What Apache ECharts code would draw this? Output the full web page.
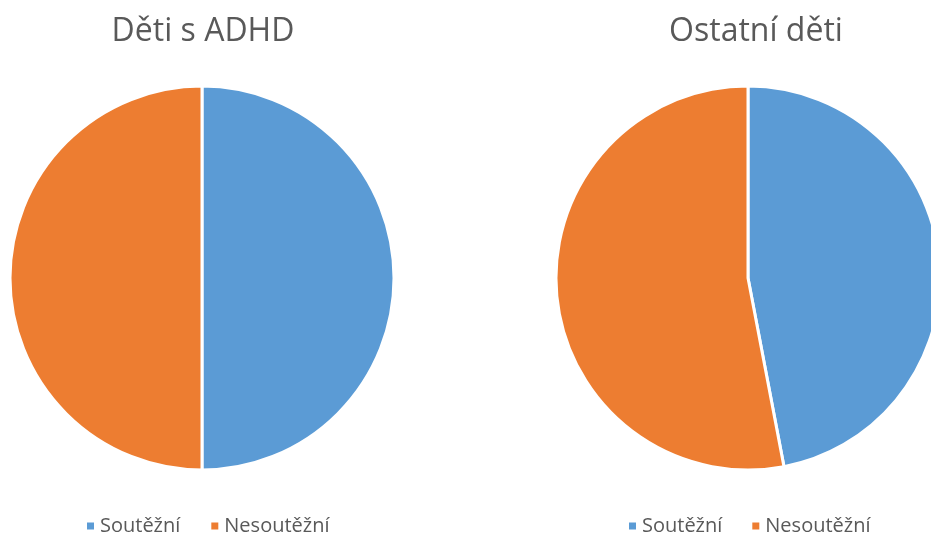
<!DOCTYPE html>
<html><head><meta charset="utf-8">
<script src="https://cdn.jsdelivr.net/npm/echarts@6/dist/echarts.min.js"></script>
<style>html,body{margin:0;padding:0;background:#fff}#c{width:931px;height:534px}</style>
</head><body><div id="c"></div>
<script>
const categories = ['Soutěžní', 'Nesoutěžní'];
const titles = ['Děti s ADHD', 'Ostatní děti'];
const adhdValues = [50, 50];
const otherValues = [47, 53];
const colors = ['#5B9BD5', '#ED7D31'];

const chart = echarts.init(document.getElementById('c'));
const font = 'Open Sans, Noto Sans, sans-serif';
function mk(values) { return categories.map((n, i) => ({ name: n, value: values[i] })); }
const titleStyle = { fontFamily: font, fontSize: 32, fontWeight: 'normal', color: '#595959' };
const legendStyle = { fontFamily: font, fontSize: 20, color: '#595959' };
chart.setOption({
  color: colors,
  animation: false,
  title: [
    { text: titles[0], left: 198, top: 11, textAlign: 'center', textStyle: titleStyle },
    { text: titles[1], left: 751, top: 11, textAlign: 'center', textStyle: titleStyle }
  ],
  legend: [
    { data: categories, left: 80, top: 511, icon: 'rect', itemWidth: 9, itemHeight: 9, itemGap: 29, textStyle: legendStyle },
    { data: categories, left: 622, top: 511, icon: 'rect', itemWidth: 9, itemHeight: 9, itemGap: 28, textStyle: legendStyle }
  ],
  series: [
    { type: 'pie', center: [202, 278], radius: [0, 192], startAngle: 90, label: { show: false }, labelLine: { show: false }, silent: true,
      itemStyle: { borderColor: '#fff', borderWidth: 3 }, data: mk(adhdValues) },
    { type: 'pie', center: [748, 278], radius: [0, 192], startAngle: 90, label: { show: false }, labelLine: { show: false }, silent: true,
      itemStyle: { borderColor: '#fff', borderWidth: 3 }, data: mk(otherValues) }
  ]
});
</script></body></html>
